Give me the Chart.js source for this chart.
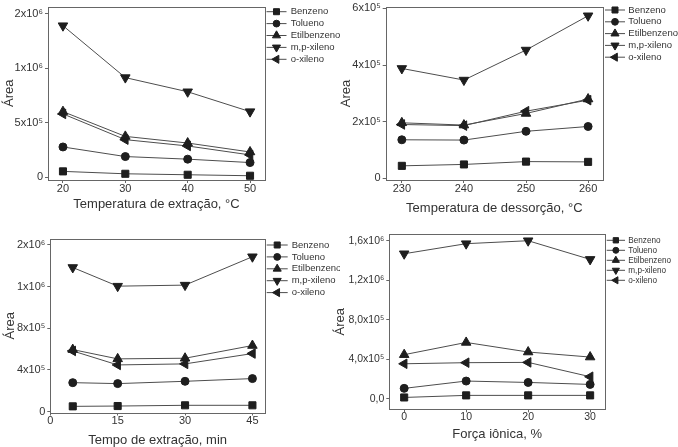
<!DOCTYPE html>
<html>
<head>
<meta charset="utf-8">
<script src="https://cdn.jsdelivr.net/npm/chart.js@4.4.1/dist/chart.umd.min.js"></script>
<style>
  body { margin: 0; background: #fff; width: 678px; height: 447px; position: relative; overflow: hidden; }
  canvas { position: absolute; }
</style>
</head>
<body>
<canvas id="c1" width="340" height="224" style="left:0;top:0"></canvas>
<canvas id="c2" width="338" height="224" style="left:340px;top:0"></canvas>
<canvas id="c3" width="340" height="223" style="left:0;top:224px"></canvas>
<canvas id="c4" width="348" height="223" style="left:330px;top:224px"></canvas>
<script>
// series names (same for every panel)
const seriesNames = ['Benzeno', 'Tolueno', 'Etilbenzeno', 'm,p-xileno', 'o-xileno'];

// panel 1: extraction temperature
const p1X = [20, 30, 40, 50];
const p1Benzeno = [52000, 30000, 21000, 12000];
const p1Tolueno = [276000, 188000, 164000, 133000];
const p1Etil = [600000, 373000, 312000, 230000];
const p1MP = [1388000, 912000, 782000, 600000];
const p1O = [579000, 343000, 285000, 203000];
const p1XTicks = [20, 30, 40, 50];
const p1YTicks = [0, 500000, 1000000, 1500000];
const p1YLabels = ['0', '5x10⁵', '1x10⁶', '2x10⁶'];

// panel 2: desorption temperature
const p2X = [230, 240, 250, 260];
const p2Benzeno = [44000, 49000, 59000, 58000];
const p2Tolueno = [136000, 135000, 166000, 183000];
const p2Etil = [196000, 188000, 229000, 280000];
const p2MP = [388000, 347000, 453000, 574000];
const p2O = [190000, 186000, 237000, 276000];
const p2XTicks = [230, 240, 250, 260];
const p2YTicks = [0, 200000, 400000, 600000];
const p2YLabels = ['0', '2x10⁵', '4x10⁵', '6x10⁵'];

// panel 3: extraction time
const p3X = [5, 15, 30, 45];
const p3Benzeno = [51000, 54000, 61000, 61000];
const p3Tolueno = [278000, 269000, 291000, 317000];
const p3Etil = [595000, 506000, 512000, 634000];
const p3MP = [1382000, 1203000, 1213000, 1485000];
const p3O = [582000, 448000, 458000, 557000];
const p3XTicks = [0, 15, 30, 45];
const p3YTicks = [0, 400000, 800000, 1200000, 1600000];
const p3YLabels = ['0', '4x10⁵', '8x10⁵', '1x10⁶', '2x10⁶'];

// panel 4: ionic strength
const p4X = [0, 10, 20, 30];
const p4Benzeno = [13000, 34000, 34000, 34000];
const p4Tolueno = [105000, 179000, 165000, 145000];
const p4Etil = [446000, 570000, 473000, 422000];
const p4MP = [1468000, 1570000, 1600000, 1411000];
const p4O = [354000, 365000, 368000, 223000];
const p4XTicks = [0, 10, 20, 30];
const p4YTicks = [0, 400000, 800000, 1200000, 1600000];
const p4YLabels = ['0,0', '4,0x10⁵', '8,0x10⁵', '1,2x10⁶', '1,6x10⁶'];

const FONT = '"Liberation Sans", Arial, "DejaVu Sans", sans-serif';
const markerStyle = ['rect', 'circle', 'triangle', 'triangle', 'triangle'];
const markerRot = [0, 0, 0, 180, 270];
const markerRadius = [5, 4, 5.5, 5.5, 5.5];

// box around the plot area
const framePlugin = {
  id: 'frame',
  beforeDatasetsDraw(chart) {
    const a = chart.chartArea, ctx = chart.ctx;
    ctx.save();
    ctx.strokeStyle = '#666';
    ctx.lineWidth = 1;
    const l = Math.round(a.left) + 0.5, t = Math.round(a.top) + 0.5;
    ctx.strokeRect(l, t, Math.round(a.right) - Math.round(a.left), Math.round(a.bottom) - Math.round(a.top));
    ctx.restore();
  }
};

// legend to the right: line - marker - line, then label
const sideLegend = {
  id: 'sideLegend',
  afterDraw(chart, args, o) {
    const ctx = chart.ctx;
    chart.data.datasets.forEach((ds, i) => {
      const y = o.y0 + i * o.dy;
      ctx.save();
      ctx.strokeStyle = ds.borderColor;
      ctx.lineWidth = 1;
      ctx.beginPath();
      ctx.moveTo(o.x0, y);
      ctx.lineTo(o.x0 + o.len, y);
      ctx.stroke();
      ctx.fillStyle = ds.pointBackgroundColor;
      ctx.strokeStyle = ds.pointBorderColor;
      const cx = o.x0 + o.len / 2;
      if (Chart.helpers && Chart.helpers.drawPoint) {
        Chart.helpers.drawPoint(ctx, {
          pointStyle: ds.pointStyle, rotation: ds.pointRotation,
          radius: ds.pointRadius * o.scale, borderWidth: 1
        }, cx, y);
      } else {
        ctx.beginPath(); ctx.arc(cx, y, ds.pointRadius * o.scale, 0, Math.PI * 2); ctx.fill();
      }
      ctx.fillStyle = '#333';
      ctx.font = o.size + 'px ' + FONT;
      ctx.textBaseline = 'middle';
      ctx.fillText(ds.label, o.textX, y);
      ctx.restore();
    });
  }
};

function makePanel(id, W, H, box, xs, series, xr, yr, xTicks, yTicks, yLabels, xTitle, xTitlePad, yTitlePad, tickSize, leg) {
  const datasets = series.map((vals, i) => ({
    label: seriesNames[i],
    data: xs.map((x, j) => ({ x: x, y: vals[j] })),
    borderColor: '#4d4d4d',
    borderWidth: 1,
    pointStyle: markerStyle[i],
    pointRotation: markerRot[i],
    pointRadius: markerRadius[i],
    pointBackgroundColor: '#1e1e1e',
    pointBorderColor: '#1e1e1e',
    pointBorderWidth: 1,
    tension: 0
  }));
  new Chart(document.getElementById(id), {
    type: 'line',
    data: { datasets: datasets },
    options: {
      responsive: false,
      maintainAspectRatio: false,
      animation: false,
      layout: { padding: { top: box.top, right: W - box.right, bottom: 0, left: 0 } },
      scales: {
        x: {
          type: 'linear',
          min: xr[0], max: xr[1],
          afterBuildTicks: ax => { ax.ticks = xTicks.map(v => ({ value: v })); },
          afterFit: ax => { ax.height = H - box.bottom; ax.paddingLeft = 0; ax.paddingRight = 0; },
          grid: { drawOnChartArea: false, drawTicks: true, tickLength: 3, color: '#666' },
          border: { display: false },
          ticks: { color: '#333', font: { family: FONT, size: tickSize, lineHeight: 1 }, padding: 0, maxRotation: 0, autoSkip: false },
          title: { display: true, text: xTitle, color: '#333', font: { family: FONT, size: 13, lineHeight: 1 }, padding: { top: 0, bottom: xTitlePad } }
        },
        y: {
          type: 'linear',
          min: yr[0], max: yr[1],
          afterBuildTicks: ax => { ax.ticks = yTicks.map(v => ({ value: v })); },
          afterFit: ax => { ax.width = box.left; ax.paddingTop = 0; ax.paddingBottom = 0; },
          grid: { drawOnChartArea: false, drawTicks: true, tickLength: 3, color: '#666' },
          border: { display: false },
          ticks: {
            color: '#333', font: { family: FONT, size: tickSize, lineHeight: 1 }, padding: 2, autoSkip: false,
            callback: v => yLabels[yTicks.indexOf(v)]
          },
          title: { display: true, text: 'Área', color: '#333', font: { family: FONT, size: 13, lineHeight: 1 }, padding: { top: yTitlePad, bottom: 0 } }
        }
      },
      plugins: {
        legend: { display: false },
        tooltip: { enabled: false },
        sideLegend: leg
      }
    },
    plugins: [framePlugin, sideLegend]
  });
}

makePanel('c1', 340, 224, { left: 48, right: 265, top: 5, bottom: 180 },
  p1X, [p1Benzeno, p1Tolueno, p1Etil, p1MP, p1O], [17.6, 52.4], [-27000, 1564000],
  p1XTicks, p1YTicks, p1YLabels, 'Temperatura de extração, °C', 13.5, 2.5, 11,
  { x0: 266.5, len: 20, textX: 290.7, y0: 11.7, dy: 11.9, size: 9.5, scale: 0.85 });

makePanel('c2', 338, 224, { left: 45.7, right: 263, top: 7, bottom: 180 },
  p2X, [p2Benzeno, p2Tolueno, p2Etil, p2MP, p2O], [227.4, 262.4], [-6000, 605000],
  p2XTicks, p2YTicks, p2YLabels, 'Temperatura de dessorção, °C', 9.5, 0, 11,
  { x0: 265, len: 20, textX: 288.3, y0: 10, dy: 11.8, size: 9.5, scale: 0.85 });

makePanel('c3', 340, 223, { left: 50.3, right: 265, top: 15, bottom: 188.5 },
  p3X, [p3Benzeno, p3Tolueno, p3Etil, p3MP, p3O], [0, 47.8], [-8000, 1655000],
  p3XTicks, p3YTicks, p3YLabels, 'Tempo de extração, min', 0, 4, 11,
  { x0: 266.7, len: 21, textX: 291.7, y0: 21, dy: 11.9, size: 9.5, scale: 0.85 });

makePanel('c4', 348, 223, { left: 59.3, right: 275, top: 10.3, bottom: 185.3 },
  p4X, [p4Benzeno, p4Tolueno, p4Etil, p4MP, p4O], [-2.4, 32.4], [-107000, 1665000],
  p4XTicks, p4YTicks, p4YLabels, 'Força iônica, %', 6.5, 3.5, 10.5,
  { x0: 276.7, len: 18.3, textX: 298.3, y0: 16.3, dy: 10, size: 8.2, scale: 0.75 });
</script>
</body>
</html>
